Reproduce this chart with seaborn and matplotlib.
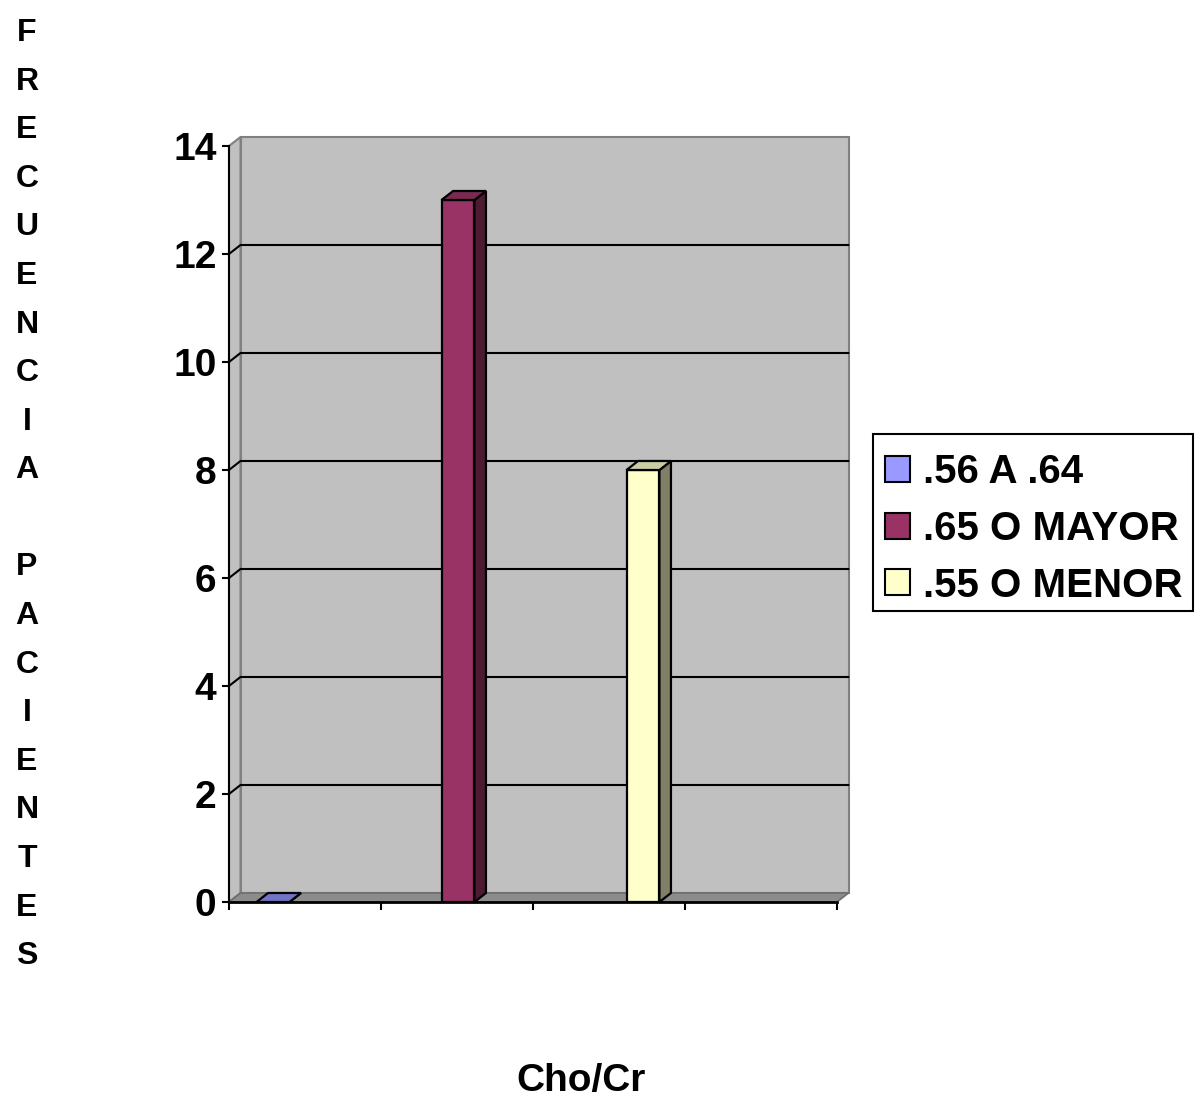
import numpy as np
import pandas as pd
import matplotlib
matplotlib.use("Agg")
import matplotlib.pyplot as plt
from matplotlib.patches import Polygon, Rectangle
import seaborn as sns

# Datos
rangos = [".56 A .64", ".65 O MAYOR", ".55 O MENOR"]
pacientes = [0, 13, 8]
y_ticks = [0, 2, 4, 6, 8, 10, 12, 14]
titulo_y = "FRECUENCIA PACIENTES"
titulo_x = "Cho/Cr"

# Colores de las columnas (frente, tapa, lateral)
colores_frente = ["#9999FF", "#993366", "#FFFFCC"]
colores_tapa = ["#7373C8", "#7A2952", "#CCCCA3"]
colores_lado = ["#5C5C99", "#4D1A33", "#808066"]

sns.set_theme(style="white")
plt.rcParams["font.family"] = ["Liberation Sans", "DejaVu Sans"]
plt.rcParams["font.weight"] = "bold"
for k in ("text.color", "axes.labelcolor", "xtick.color", "ytick.color"):
    plt.rcParams[k] = "black"

W, H = 1197, 1105
fig = plt.figure(figsize=(W / 100, H / 100), dpi=100)

# Plano frontal del gráfico en píxeles
L, R, B, T = 229, 837, 902, 146
ax = fig.add_axes([L / W, 1 - B / H, (R - L) / W, (B - T) / H])
ax.patch.set_visible(False)

df = pd.DataFrame({"rango": rangos, "pacientes": pacientes})
sns.barplot(data=df, x="rango", y="pacientes", hue="rango",
            palette=colores_frente, saturation=1, width=0.178, dodge=False,
            legend=True, edgecolor="black", linewidth=1.6, ax=ax, zorder=4)

# Escala horizontal: 185 px por categoría, categoría 0 en x=273 px
px_cat = 185.0
x_cat0 = 273.0
x0 = (L - x_cat0) / px_cat
x1 = (R - x_cat0) / px_cat
ymax = y_ticks[-1]
ax.set_xlim(x0, x1)
ax.set_ylim(0, ymax)

# Profundidad de la perspectiva
px_y = (B - T) / ymax
dx = 11.5 / px_cat
dy = 9.0 / px_y

# Paredes y piso
back = Polygon([(x0 + dx, dy), (x1 + dx, dy), (x1 + dx, ymax + dy), (x0 + dx, ymax + dy)],
               closed=True, facecolor="#C0C0C0", edgecolor="#808080", lw=1.5,
               zorder=0.5, clip_on=False)
side = Polygon([(x0, 0), (x0 + dx, dy), (x0 + dx, ymax + dy), (x0, ymax)],
               closed=True, facecolor="#C0C0C0", edgecolor="#808080", lw=1.5,
               zorder=0.6, clip_on=False)
floor = Polygon([(x0, 0), (x1, 0), (x1 + dx, dy), (x0 + dx, dy)],
                closed=True, facecolor="#8C8C8C", edgecolor="#6E6E6E", lw=1.2,
                zorder=0.7, clip_on=False)
for p in (back, side, floor):
    ax.add_patch(p)

# Líneas de división sobre la pared
for v in y_ticks[1:-1]:
    ax.plot([x0, x0 + dx, x1 + dx], [v, v + dy, v + dy], color="black",
            lw=1.5, zorder=1, clip_on=False)

# Caras superior y lateral de cada columna
for i, cont in enumerate(ax.containers):
    for bar in cont:
        x = bar.get_x()
        w = bar.get_width()
        h = bar.get_height()
        top = Polygon([(x, h), (x + w, h), (x + w + dx, h + dy), (x + dx, h + dy)],
                      closed=True, facecolor=colores_tapa[i], edgecolor="black",
                      lw=1.6, zorder=4, clip_on=False)
        lado = Polygon([(x + w, 0), (x + w + dx, dy), (x + w + dx, h + dy), (x + w, h)],
                       closed=True, facecolor=colores_lado[i], edgecolor="black",
                       lw=1.6, zorder=4, clip_on=False)
        ax.add_patch(lado)
        ax.add_patch(top)

# Ejes
ax.set_yticks(y_ticks)
ax.set_xticks(np.linspace(x0, x1, 5))
ax.set_xticklabels([])
ax.set_xlabel("")
ax.set_ylabel("")
ax.tick_params(axis="y", left=True, direction="out", length=5, width=1.5,
               color="black", labelcolor="black", labelsize=28, pad=4)
ax.tick_params(axis="x", bottom=True, direction="out", length=6, width=1.5,
               color="black")
for lbl in ax.get_yticklabels():
    lbl.set_fontweight("bold")
ax.spines["top"].set_visible(False)
ax.spines["right"].set_visible(False)
ax.spines["left"].set_color("black")
ax.spines["left"].set_linewidth(1.5)
ax.spines["bottom"].set_color("black")
ax.spines["bottom"].set_linewidth(2)

# Leyenda (marco dibujado aparte)
handles, labels = ax.get_legend_handles_labels()
ax.get_legend().remove()
for hnd in handles:
    hnd.set_edgecolor("black")
    hnd.set_linewidth(1.5)
leg = ax.legend(handles, labels, loc="upper left",
                bbox_to_anchor=(873 / W, 1 - 441 / H), bbox_transform=fig.transFigure,
                borderaxespad=0, frameon=False, prop=dict(size=29, weight="bold"),
                handlelength=0.62, handleheight=0.62, handletextpad=0.3,
                labelspacing=0.46, borderpad=0.31)
for t in leg.get_texts():
    t.set_color("black")
fig.patches.append(Rectangle((873 / W, 1 - 611 / H), 320 / W, 177 / H,
                             transform=fig.transFigure, facecolor="white",
                             edgecolor="black", lw=1.5, zorder=-1))

# Títulos de los ejes
fig.text(27 / W, 1 - 18 / H, "\n".join(titulo_y), ha="center", va="top",
         fontsize=23, fontweight="bold", linespacing=1.808)
fig.text(581 / W, 1 - 1081 / H, titulo_x, ha="center", va="center",
         fontsize=28, fontweight="bold")

fig.savefig("out.png", dpi=100, facecolor="white")
